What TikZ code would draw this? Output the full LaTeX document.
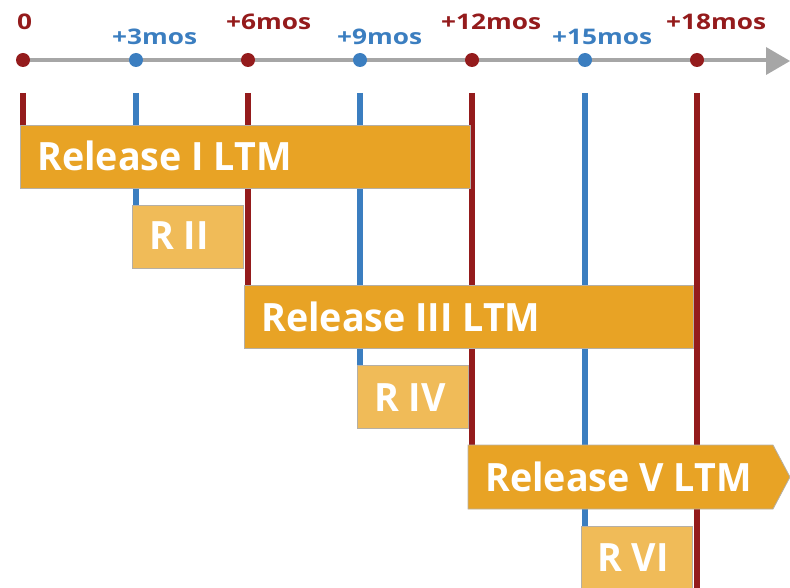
\documentclass[tikz,border=0pt]{standalone}
\usepackage{fontspec}
\setmainfont{Open Sans}
\newfontfamily\axisfont{Open Sans}[FakeStretch=1.22]
\newfontfamily\boxfont{Open Sans}[FakeStretch=0.965]
\definecolor{tred}{HTML}{941B1C}
\definecolor{tblue}{HTML}{3B7EC0}
\definecolor{tgray}{HTML}{A6A6A6}
\definecolor{ltmc}{HTML}{E8A325}
\definecolor{stsc}{HTML}{F0BB58}
\definecolor{boxedge}{HTML}{B5AFA5}
\begin{document}
\begin{tikzpicture}[x=1pt,y=-1pt,
  ltmbox/.style={draw=boxedge, line width=0.8pt, fill=ltmc, anchor=north west, minimum height=63pt, inner sep=0pt},
  stsbox/.style={draw=boxedge, line width=0.8pt, fill=stsc, anchor=north west, minimum height=63pt, minimum width=111pt, inner sep=0pt},
  boxlabel/.style={anchor=base west, text=white, font=\boxfont\bfseries\fontsize{39}{39}\selectfont, inner sep=0pt},
  redlab/.style={anchor=base west, text=tred, font=\axisfont\bfseries\fontsize{21.5}{21.5}\selectfont, inner sep=0pt},
  bluelab/.style={anchor=base west, text=tblue, font=\axisfont\bfseries\fontsize{21.5}{21.5}\selectfont, inner sep=0pt},
  reddot/.style={circle, fill=tred, minimum size=14pt, inner sep=0pt},
  bluedot/.style={circle, fill=tblue, minimum size=14pt, inner sep=0pt},
  redline/.style={draw=tred, line width=6pt},
  blueline/.style={draw=tblue, line width=6pt}
]
\useasboundingbox (0,0) rectangle (790,588);

% axis
\coordinate (ax0) at (23,60);
\coordinate (axe) at (768,60);
\draw[tgray, line width=4pt] (ax0) -- (axe);
\coordinate (ah1) at (766,47);
\coordinate (ah2) at (790,61);
\coordinate (ah3) at (766,75);
\fill[tgray] (ah1) -- (ah2) -- (ah3) -- cycle;

\node[reddot]  (d0)  at (23,60) {};
\node[bluedot] (d3)  at (136,60) {};
\node[reddot]  (d6)  at (248,60) {};
\node[bluedot] (d9)  at (360,60) {};
\node[reddot]  (d12) at (472,60) {};
\node[bluedot] (d15) at (585,60) {};
\node[reddot]  (d18) at (697,60) {};

\node[redlab]  (l0)  at (17,30) {0};
\node[bluelab] (l3)  at (112,45) {+3mos};
\node[redlab]  (l6)  at (226,30) {+6mos};
\node[bluelab] (l9)  at (337,45) {+9mos};
\node[redlab]  (l12) at (441,30) {+12mos};
\node[bluelab] (l15) at (552,45) {+15mos};
\node[redlab]  (l18) at (666,30) {+18mos};

% line tops
\coordinate (t0)  at (23,93);
\coordinate (t3)  at (136,93);
\coordinate (t6)  at (248,93);
\coordinate (t9)  at (360,93);
\coordinate (t12) at (472,93);
\coordinate (t15) at (585,93);
\coordinate (t18) at (697,93);
\coordinate (b18) at (697,588);

% boxes (positions)
\coordinate (r1p) at (20,125);
\coordinate (r2p) at (132,205);
\coordinate (r3p) at (244,285);
\coordinate (r4p) at (357,365);
\coordinate (r6p) at (581,526);
\coordinate (v1) at (468,445);
\coordinate (v2) at (773,445);
\coordinate (v3) at (790,477);
\coordinate (v4) at (773,509);
\coordinate (v5) at (468,509);

% vertical lines
\draw[redline]  (t0)  -- (t0 |- r1p);
\draw[blueline] (t3)  -- (t3 |- r2p);
\draw[redline]  (t6)  -- (t6 |- r3p);
\draw[blueline] (t9)  -- (t9 |- r4p);
\draw[redline]  (t12) -- (t12 |- v1);
\draw[blueline] (t15) -- (t15 |- r6p);
\draw[redline]  (t18) -- (b18);

% boxes
\node[ltmbox, minimum width=450pt] (r1) at (r1p) {};
\node[stsbox] (r2) at (r2p) {};
\node[ltmbox, minimum width=449pt] (r3) at (r3p) {};
\node[stsbox] (r4) at (r4p) {};
\draw[draw=boxedge, line width=0.8pt, fill=ltmc] (v1) -- (v2) -- (v3) -- (v4) -- (v5) -- cycle;
\node[stsbox] (r6) at (r6p) {};

\node[boxlabel] (r1t) at (37,171) {Release I LTM};
\node[boxlabel] (r2t) at (149,250) {R II};
\node[boxlabel] (r3t) at (261,331) {Release III LTM};
\node[boxlabel] (r4t) at (374,411) {R IV};
\node[boxlabel] (r5t) at (485,491) {Release V LTM};
\node[boxlabel] (r6t) at (597,571) {R VI};
\end{tikzpicture}
\end{document}
